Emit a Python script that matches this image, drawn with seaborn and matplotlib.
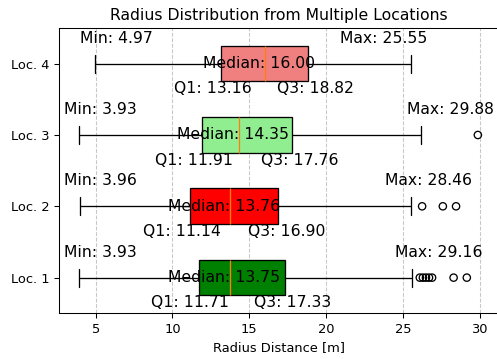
import matplotlib
matplotlib.use("Agg")
import matplotlib.pyplot as plt
import pandas as pd
import seaborn as sns

# Five-number summaries per location (lower whisker, quartiles, median, upper whisker)
locations = ["Loc. 1", "Loc. 2", "Loc. 3", "Loc. 4"]
box_colors = ["green", "red", "lightgreen", "lightcoral"]
mins = [3.93, 3.96, 3.93, 4.97]
q1s = [11.71, 11.14, 11.91, 13.16]
medians = [13.75, 13.76, 14.35, 16.00]
q3s = [17.33, 16.90, 17.76, 18.82]
upper_whiskers = [25.60, 25.50, 26.20, 25.55]

# Points beyond the upper fence
outliers_loc1 = [26.10, 26.30, 26.50, 26.70, 26.90, 28.30, 29.16]
outliers_loc2 = [26.25, 27.60, 28.46]
outliers_loc3 = [29.88]
outliers_loc4 = []
outliers = [outliers_loc1, outliers_loc2, outliers_loc3, outliers_loc4]

sns.set_style("ticks")
plt.rcParams["font.family"] = ["DejaVu Sans"]
plt.rcParams["axes.edgecolor"] = "black"
plt.rcParams["xtick.color"] = "black"
plt.rcParams["ytick.color"] = "black"
plt.rcParams["text.color"] = "black"
plt.rcParams["axes.labelcolor"] = "black"

S = 0.94  # overall scale for fonts and lines
ANN = 12 * S

box_rows = []
for loc, a, b, c, d, e in zip(locations, mins, q1s, medians, q3s, upper_whiskers):
    for v in (a, b, c, d, e):
        box_rows.append({"location": loc, "distance": v})
box_df = pd.DataFrame(box_rows)

out_rows = [{"location": loc, "distance": v}
            for loc, vals in zip(locations, outliers) for v in vals]
out_df = pd.DataFrame(out_rows)

order = locations[::-1]  # Loc. 1 drawn at the bottom
palette = dict(zip(locations, box_colors))

fig = plt.figure(figsize=(4.97, 3.59), dpi=100)
ax = fig.add_axes([59.3 / 497, 1 - 313.3 / 359, 438.5 / 497, (313.3 - 28) / 359])
ax.set_axisbelow(True)
ax.grid(axis="x", linestyle="--", color="#b0b0b0", alpha=0.7, linewidth=0.8 * S)

sns.boxplot(
    data=box_df, x="distance", y="location", hue="location", order=order,
    hue_order=locations, palette=palette, legend=False, dodge=False,
    width=0.5, saturation=1, linecolor="black", linewidth=1.0 * S, whis=1.5,
    medianprops=dict(color="#ff7f0e", linewidth=1.0 * S),
    showfliers=False, ax=ax,
)
n_before = len(ax.collections)
sns.stripplot(
    data=out_df, x="distance", y="location", order=order, jitter=False,
    marker="o", size=5.6 * S, color="black", linewidth=1.0 * S,
    edgecolor="black", ax=ax,
)
for coll in ax.collections[n_before:]:
    coll.set_facecolor("none")
    coll.set_edgecolor("black")

# Value annotations
for loc, mn, a, md, b, wh, outs in zip(locations, mins, q1s, medians, q3s,
                                       upper_whiskers, outliers):
    y = order.index(loc)
    mx = max([wh] + outs)
    ax.text(mn - 1.0, y - 0.25, f"Min: {mn:.2f}", ha="left", va="bottom", fontsize=ANN)
    ax.text(mx + 1.05, y - 0.25, f"Max: {mx:.2f}", ha="right", va="bottom", fontsize=ANN)
    ax.text(md - 0.38, y, f"Median: {md:.2f}", ha="center", va="center", fontsize=ANN)
    ax.text(a + 2.0, y + 0.25, f"Q1: {a:.2f}", ha="right", va="top", fontsize=ANN)
    ax.text(b - 2.0, y + 0.25, f"Q3: {b:.2f}", ha="left", va="top", fontsize=ANN)

lo = min(mins)
hi = max(max([w] + o) for w, o in zip(upper_whiskers, outliers))
pad = 0.05 * (hi - lo)
ax.set_xlim(lo - pad, hi + pad)
ax.set_ylim(3.5, -0.5)
ax.set_xticks([5, 10, 15, 20, 25, 30])
ax.tick_params(labelsize=10 * S, length=3.5 * S, width=0.8 * S)
for sp in ax.spines.values():
    sp.set_linewidth(0.8 * S)
    sp.set_visible(True)
ax.set_ylabel("")
ax.set_xlabel("Radius Distance [m]", fontsize=10 * S, labelpad=4 * S)
ax.set_title("Radius Distribution from Multiple Locations", fontsize=12 * S, pad=6 * S)

fig.savefig("out.png", dpi=100)
